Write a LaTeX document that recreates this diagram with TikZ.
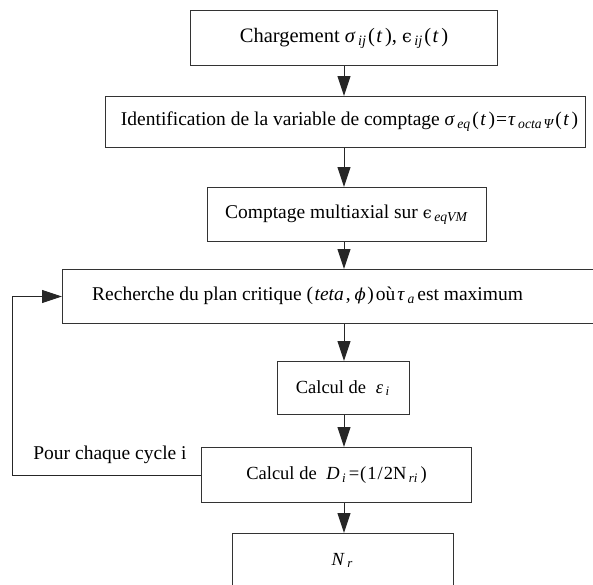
\documentclass[tikz,border=0pt]{standalone}
\usepackage{fontspec}
\setmainfont{Liberation Serif}
\newfontfamily\dvs{DejaVu Serif}
\usetikzlibrary{arrows.meta}
\newcommand{\ms}[1]{\kern2.5pt\textsubscript{\itshape #1}\kern1.5pt}
\newcommand{\pt}{(\kern1.5pt\textit{t}\kern2.5pt)}
\newcommand{\fsz}[1]{\fontsize{#1}{#1}\selectfont}
\begin{document}
\begin{tikzpicture}[x=1pt,y=-1pt,
  box/.style={draw=black!80, line width=1pt, inner sep=0pt, anchor=north west},
  txt/.style={inner sep=0pt},
  arr/.style={draw=black!85, line width=1pt, -{Triangle[length=20pt,width=13pt]}},
  ]
\useasboundingbox (0,0) rectangle (593,584);
\coordinate (ax) at (344,0);
\coordinate (fl) at (12,0);

\node[box, minimum width=307pt, minimum height=55pt, font=\fsz{20.5}] (b1) at (190,10)
  {Chargement \textit{σ}\ms{ij}\pt, {\dvs\fsz{17.5}ϵ}\ms{ij}\pt};
\node[box, minimum width=480pt, minimum height=51pt, font=\fsz{19.5}] (b2) at (105,96)
  {\kern8pt Identification de la variable de comptage \textit{σ}\ms{eq}\pt\kern1pt=\kern1pt\textit{τ}\ms{octa\kern2pt Ψ}\pt};
\node[box, minimum width=279pt, minimum height=54pt, font=\fsz{19.5}] (b3) at (207,187)
  {Comptage multiaxial sur {\dvs\fsz{16}ϵ}\ms{eqVM}};
\node[box, minimum width=545pt, minimum height=54pt] (b4) at (62,269) {};
\node[txt, font=\fsz{19.5}, anchor=west] (t4) at (92,296)
  {Recherche du plan critique (\kern1.5pt\textit{teta}\kern2pt,\kern4pt{\dvs\itshape\fsz{16.5}ϕ}\kern1.5pt)\kern2pt où\kern2pt\textit{τ}\ms{a}\kern1pt est maximum};
\node[box, minimum width=132pt, minimum height=53pt, font=\fsz{18.5}] (b5) at (277,361)
  {Calcul de\kern5pt\ \textit{ε}\ms{i}};
\node[box, minimum width=270pt, minimum height=55pt, font=\fsz{18.5}] (b6) at (201,447)
  {Calcul de\kern5pt\ \textit{D}\ms{i}\kern1pt=\kern1pt(\kern1pt1\kern1pt/\kern1pt2N\ms{ri}\kern1pt)};
\node[box, minimum width=221pt, minimum height=60pt, font=\fsz{18.5}] (b7) at (232,533)
  {\raisebox{9pt}{\textit{N}\ms{r}}};
\node[txt, font=\fsz{19.5}] (lab) at (110,455) {Pour chaque cycle i};

\draw[arr] (b1.south -| ax) -- (b2.north -| ax);
\draw[arr] (b2.south -| ax) -- (b3.north -| ax);
\draw[arr] (b3.south -| ax) -- (b4.north -| ax);
\draw[arr] (b4.south -| ax) -- (b5.north -| ax);
\draw[arr] (b5.south -| ax) -- (b6.north -| ax);
\draw[arr] (b6.south -| ax) -- (b7.north -| ax);
\draw[arr] (b6.west) -- (b6.west -| fl) -- (b4.west -| fl) -- (b4.west);
\end{tikzpicture}
\end{document}
